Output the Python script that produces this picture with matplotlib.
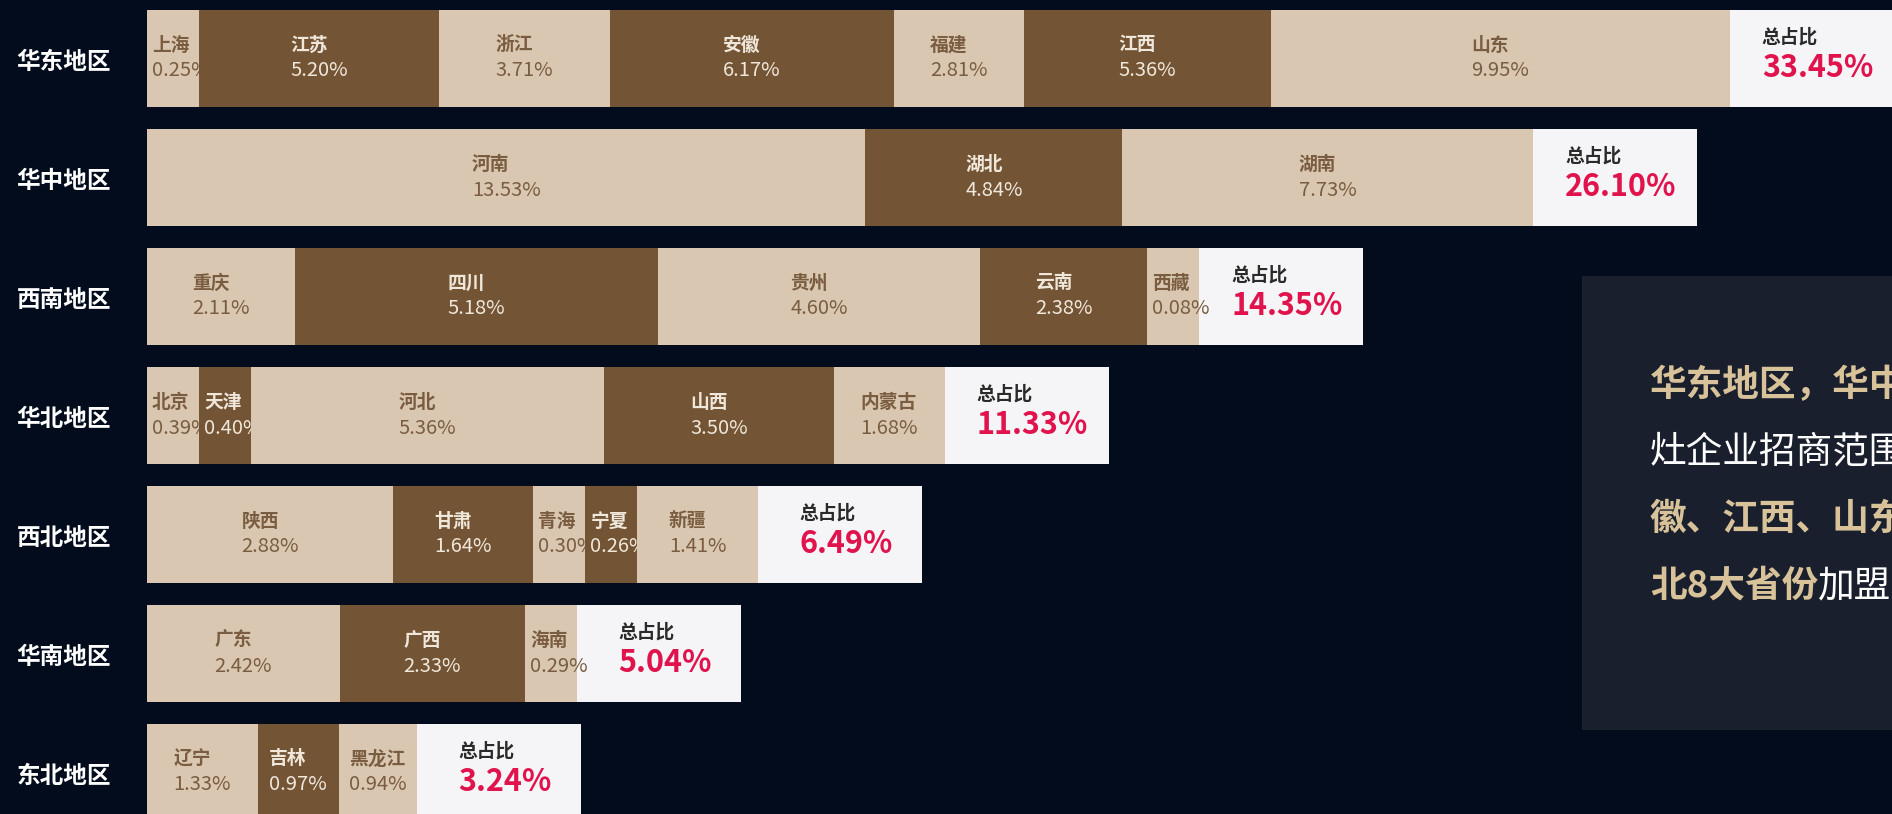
import numpy as np
import matplotlib
matplotlib.use('Agg')
import matplotlib.pyplot as plt
from matplotlib.patches import Rectangle

plt.rcParams['font.family'] = ['Noto Sans CJK SC', 'DejaVu Sans']

# ---------------- data ----------------
regions = ['华东地区', '华中地区', '西南地区', '华北地区', '西北地区', '华南地区', '东北地区']

east_names = ['上海', '江苏', '浙江', '安徽', '福建', '江西', '山东']
east_vals = [0.25, 5.20, 3.71, 6.17, 2.81, 5.36, 9.95]
central_names = ['河南', '湖北', '湖南']
central_vals = [13.53, 4.84, 7.73]
southwest_names = ['重庆', '四川', '贵州', '云南', '西藏']
southwest_vals = [2.11, 5.18, 4.60, 2.38, 0.08]
north_names = ['北京', '天津', '河北', '山西', '内蒙古']
north_vals = [0.39, 0.40, 5.36, 3.50, 1.68]
northwest_names = ['陕西', '甘肃', '青海', '宁夏', '新疆']
northwest_vals = [2.88, 1.64, 0.30, 0.26, 1.41]
south_names = ['广东', '广西', '海南']
south_vals = [2.42, 2.33, 0.29]
northeast_names = ['辽宁', '吉林', '黑龙江']
northeast_vals = [1.33, 0.97, 0.94]

region_totals = [33.45, 26.10, 14.35, 11.33, 6.49, 5.04, 3.24]

panel_lines = [
    [('华东地区，华中', 'hl')],
    [('灶企业招商范围', 'plain')],
    [('徽、江西、山东', 'hl')],
    [('北8大省份', 'hl'), ('加盟', 'plain')],
]

rows = [
    (east_names, east_vals),
    (central_names, central_vals),
    (southwest_names, southwest_vals),
    (north_names, north_vals),
    (northwest_names, northwest_vals),
    (south_names, south_vals),
    (northeast_names, northeast_vals),
]

# ---------------- layout / style ----------------
W, H = 1892, 814
BG = '#020c1d'
LIGHT = '#d9c7b1'
DARK = '#735434'
TXT_ON_LIGHT = '#7a5d40'
TXT_ON_DARK = '#f0e7db'
BOX = '#f5f5f7'
RED = '#e0134d'
TAN = '#d8c29a'
PANEL = '#1a1f2d'

row_scale = [46.1, 53.1, 70.1, 65.8, 85.5, 79.6, 83.3]  # px per percent, per row
MIN_W = 52
X0 = 147
BOX_W = 164
ROW_Y0 = 58
PITCH = 119
BAR_H = 97

fig = plt.figure(figsize=(W / 100, H / 100), dpi=100, facecolor=BG)
ax = fig.add_axes([0, 0, 1, 1])
ax.set_xlim(0, W)
ax.set_ylim(H, 0)
ax.axis('off')
ax.set_facecolor(BG)

renderer = fig.canvas.get_renderer()


def text_width(t):
    bb = t.get_window_extent(renderer)
    return bb.width


for i, (names, vals) in enumerate(rows):
    yc = ROW_Y0 + PITCH * i
    ax.text(64, yc + 4, regions[i], ha='center', va='center', color='white',
            fontsize=17, fontweight='bold')
    widths = [max(v * row_scale[i], MIN_W) for v in vals]
    lefts = X0 + np.concatenate([[0], np.cumsum(widths)[:-1]])
    for j, (nm, v, w, l) in enumerate(zip(names, vals, widths, lefts)):
        light = (j % 2 == 0)
        ax.barh(yc, w, left=l, height=BAR_H, color=LIGHT if light else DARK,
                zorder=2 + 2 * j, linewidth=0)
        tc = TXT_ON_LIGHT if light else TXT_ON_DARK
        t1 = ax.text(0, yc - 13, nm, ha='left', va='center', color=tc,
                     fontsize=13.5, fontweight='bold', zorder=3 + 2 * j)
        t2 = ax.text(0, yc + 13, f'{v:.2f}%', ha='left', va='center', color=tc,
                     fontsize=14.5, fontweight='medium', zorder=3 + 2 * j)
        bw = max(text_width(t1), text_width(t2))
        xl = max(l + w / 2 - bw / 2, l + 5)
        t1.set_x(xl)
        t2.set_x(xl)
    end = lefts[-1] + widths[-1]
    ax.barh(yc, BOX_W, left=end, height=BAR_H, color=BOX, zorder=1, linewidth=0)
    tv = ax.text(0, yc + 10, f'{region_totals[i]:.2f}%', ha='left', va='center',
                 color=RED, fontsize=22, fontweight='bold', zorder=50)
    tl = ax.text(0, yc - 21, '总占比', ha='left', va='center', color='#2a2a2a',
                 fontsize=13.5, fontweight='bold', zorder=50)
    bw = max(text_width(tv), text_width(tl))
    xl = end + BOX_W / 2 + 6 - bw / 2
    tv.set_x(xl)
    tl.set_x(xl)

# ---------------- right panel ----------------
px0, py0, py1 = 1582, 276, 730
fig.patches.append(Rectangle((px0 / W, 1 - py1 / H), 1 - px0 / W + 0.01, (py1 - py0) / H,
                             transform=fig.transFigure, facecolor=PANEL, edgecolor='none',
                             zorder=0))
line_y = [386, 452, 519, 586]
for ly, parts in zip(line_y, panel_lines):
    x = 1650
    for txt, kind in parts:
        t = fig.text(x / W, 1 - ly / H, txt, ha='left', va='center', fontsize=26.4,
                     color=TAN if kind == 'hl' else 'white',
                     fontweight='bold' if kind == 'hl' else 'normal', zorder=5)
        x += text_width(t)

fig.savefig('out.png', dpi=100, facecolor=BG)
